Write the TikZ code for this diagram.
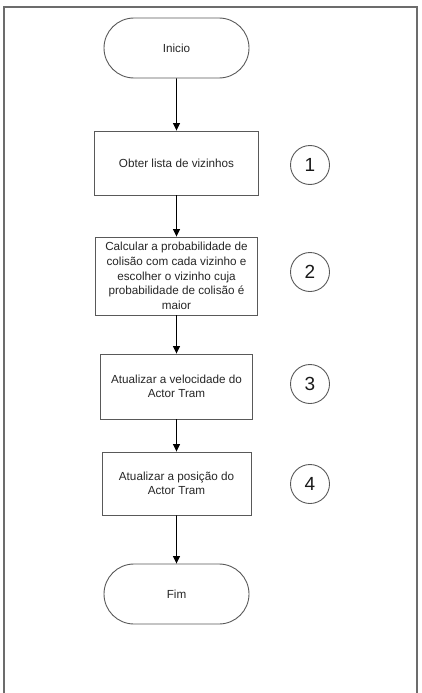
\documentclass[tikz,border=0pt]{standalone}
\usepackage{fontspec}
\setmainfont{Liberation Sans}
\usetikzlibrary{arrows.meta,shapes.misc}
\tikzset{
  etapa/.style={draw=black!65, line width=0.9pt, text=black!85, align=center,
    font=\fontsize{11.7}{14.6}\selectfont, inner sep=2pt},
  terminal/.style={etapa, rounded rectangle, minimum width=149pt, minimum height=60pt},
  passo/.style={etapa, rectangle, minimum width=#1},
  numero/.style={circle, draw=black!65, line width=0.9pt, minimum size=39pt, inner sep=0pt,
    text=black!90, font=\fontsize{19}{19}\selectfont},
  fluxo/.style={draw=black, line width=0.8pt, -{Triangle[width=7pt,length=7.5pt]}}
}
\begin{document}
\begin{tikzpicture}[x=1pt,y=-1pt]
      \useasboundingbox (0,0) rectangle (421,693);
      % moldura
      \draw[gray!85!black, line width=2pt] (4,694) -- (4,7) -- (417,7) -- (417,694);
      \draw
        (176.5,48) node[terminal] (inicio){Inicio}
        (176.5,163) node[passo=164pt, minimum height=64pt] (lista){Obter lista de vizinhos}
        (176.5,276) node[passo=162pt, minimum height=78pt] (calcular){Calcular a probabilidade de\\colisão com cada vizinho e\\escolher o vizinho cuja\\probabilidade de colisão é\\maior}
        (176.5,386.5) node[passo=152pt, minimum height=65pt] (velocidade){Atualizar a velocidade do\\Actor Tram}
        (176.5,483.5) node[passo=149pt, minimum height=63pt] (posicao){Atualizar a posição do\\Actor Tram}
        (176.5,594) node[terminal] (fim){Fim};
      \draw
        (310,165) node[numero] (n1){1}
        (310,272) node[numero] (n2){2}
        (310,384) node[numero] (n3){3}
        (310,484) node[numero] (n4){4};
      \begin{scope}[fluxo]
        \draw (inicio) to (lista);
        \draw (lista) to (calcular);
        \draw (calcular) to (velocidade);
        \draw (velocidade) to (posicao);
        \draw (posicao) to (fim);
      \end{scope}
    \end{tikzpicture}
\end{document}
